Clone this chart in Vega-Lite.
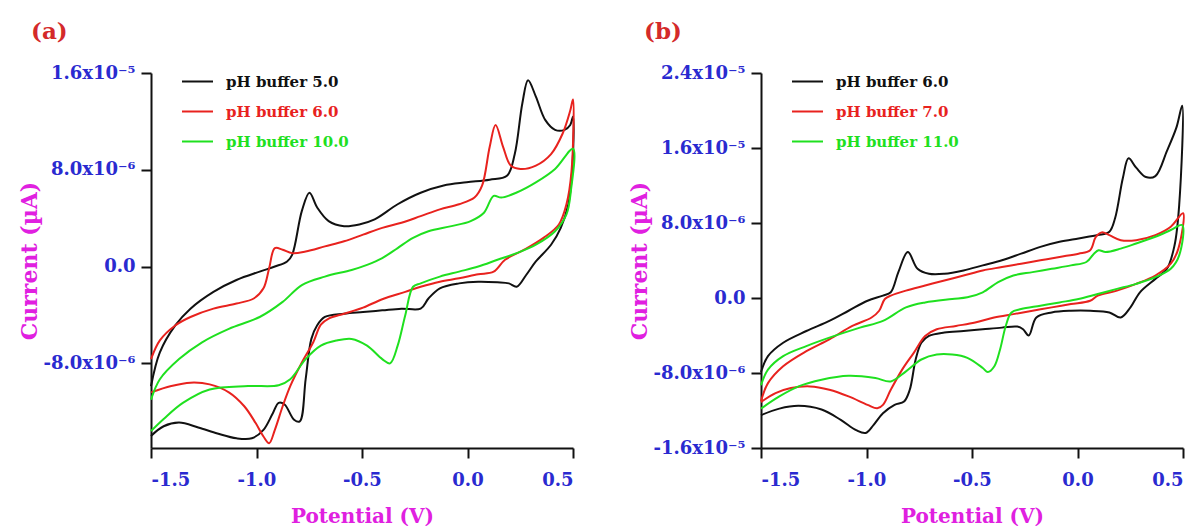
{
  "$schema": "https://vega.github.io/schema/vega-lite/v6.json",
  "background": "white",
  "padding": {"left": 18, "top": 21, "right": 0, "bottom": 0},
  "spacing": 49,
  "config": {
    "view": {"stroke": null},
    "font": "DejaVu Serif",
    "axis": {"domainColor": "#111111", "domainWidth": 2, "tickColor": "#111111", "tickWidth": 2, "tickSize": 10, "grid": false,
      "labelFont": "DejaVu Serif", "labelFontWeight": "bold", "labelFontSize": 18, "labelColor": "#2a2ad0",
      "titleFont": "DejaVu Serif", "titleFontWeight": "bold", "titleColor": "#e020e0", "titleFontSize": 20},
    "title": {"font": "DejaVu Serif", "fontWeight": "bold", "fontSize": 23, "color": "#d42a2a", "anchor": "start", "frame": "bounds"},
    "legend": {"title": null, "orient": "none", "legendX": 30, "legendY": -8, "symbolType": "stroke", "symbolSize": 961, "symbolStrokeWidth": 2,
      "labelFont": "DejaVu Serif", "labelFontWeight": "bold", "labelFontSize": 15, "labelOffset": 12, "rowPadding": 5, "padding": 0, "labelLimit": 300}
  },
  "resolve": {"scale": {"color": "independent"}, "legend": {"color": "independent"}},
  "datasets": {
    "a": [
      {"series":"pH buffer 5.0","step":1,"potential":-1.5,"current":-9.9e-6},
      {"series":"pH buffer 5.0","step":2,"potential":-1.458,"current":-7.1e-6},
      {"series":"pH buffer 5.0","step":3,"potential":-1.385,"current":-4.87e-6},
      {"series":"pH buffer 5.0","step":4,"potential":-1.313,"current":-3.48e-6},
      {"series":"pH buffer 5.0","step":5,"potential":-1.204,"current":-2.09e-6},
      {"series":"pH buffer 5.0","step":6,"potential":-1.095,"current":-1.11e-6},
      {"series":"pH buffer 5.0","step":7,"potential":-0.985,"current":-0.42e-6},
      {"series":"pH buffer 5.0","step":8,"potential":-0.913,"current":0},
      {"series":"pH buffer 5.0","step":9,"potential":-0.855,"current":0.42e-6},
      {"series":"pH buffer 5.0","step":10,"potential":-0.831,"current":0.97e-6},
      {"series":"pH buffer 5.0","step":11,"potential":-0.785,"current":4.6e-6},
      {"series":"pH buffer 5.0","step":12,"potential":-0.749,"current":6.1e-6},
      {"series":"pH buffer 5.0","step":13,"potential":-0.713,"current":4.9e-6},
      {"series":"pH buffer 5.0","step":14,"potential":-0.658,"current":3.76e-6},
      {"series":"pH buffer 5.0","step":15,"potential":-0.585,"current":3.34e-6},
      {"series":"pH buffer 5.0","step":16,"potential":-0.513,"current":3.48e-6},
      {"series":"pH buffer 5.0","step":17,"potential":-0.44,"current":3.9e-6},
      {"series":"pH buffer 5.0","step":18,"potential":-0.331,"current":5.15e-6},
      {"series":"pH buffer 5.0","step":19,"potential":-0.222,"current":6.1e-6},
      {"series":"pH buffer 5.0","step":20,"potential":-0.113,"current":6.7e-6},
      {"series":"pH buffer 5.0","step":21,"potential":-0.004,"current":6.96e-6},
      {"series":"pH buffer 5.0","step":22,"potential":0.105,"current":7.18e-6},
      {"series":"pH buffer 5.0","step":23,"potential":0.187,"current":7.5e-6},
      {"series":"pH buffer 5.0","step":24,"potential":0.224,"current":9.3e-6},
      {"series":"pH buffer 5.0","step":25,"potential":0.26,"current":13.5e-6},
      {"series":"pH buffer 5.0","step":26,"potential":0.287,"current":15.4e-6},
      {"series":"pH buffer 5.0","step":27,"potential":0.324,"current":14.05e-6},
      {"series":"pH buffer 5.0","step":28,"potential":0.369,"current":12.1e-6},
      {"series":"pH buffer 5.0","step":29,"potential":0.415,"current":11.3e-6},
      {"series":"pH buffer 5.0","step":30,"potential":0.46,"current":11.3e-6},
      {"series":"pH buffer 5.0","step":31,"potential":0.487,"current":11.7e-6},
      {"series":"pH buffer 5.0","step":32,"potential":0.5,"current":12.4e-6},
      {"series":"pH buffer 5.0","step":33,"potential":0.496,"current":7.9e-6},
      {"series":"pH buffer 5.0","step":34,"potential":0.478,"current":5.15e-6},
      {"series":"pH buffer 5.0","step":35,"potential":0.442,"current":3.2e-6},
      {"series":"pH buffer 5.0","step":36,"potential":0.396,"current":1.8e-6},
      {"series":"pH buffer 5.0","step":37,"potential":0.324,"current":0.42e-6},
      {"series":"pH buffer 5.0","step":38,"potential":0.278,"current":-0.7e-6},
      {"series":"pH buffer 5.0","step":39,"potential":0.233,"current":-1.67e-6},
      {"series":"pH buffer 5.0","step":40,"potential":0.196,"current":-1.39e-6},
      {"series":"pH buffer 5.0","step":41,"potential":0.142,"current":-1.3e-6},
      {"series":"pH buffer 5.0","step":42,"potential":0.051,"current":-1.25e-6},
      {"series":"pH buffer 5.0","step":43,"potential":-0.04,"current":-1.39e-6},
      {"series":"pH buffer 5.0","step":44,"potential":-0.131,"current":-1.8e-6},
      {"series":"pH buffer 5.0","step":45,"potential":-0.185,"current":-2.64e-6},
      {"series":"pH buffer 5.0","step":46,"potential":-0.222,"current":-3.48e-6},
      {"series":"pH buffer 5.0","step":47,"potential":-0.313,"current":-3.48e-6},
      {"series":"pH buffer 5.0","step":48,"potential":-0.404,"current":-3.62e-6},
      {"series":"pH buffer 5.0","step":49,"potential":-0.495,"current":-3.76e-6},
      {"series":"pH buffer 5.0","step":50,"potential":-0.585,"current":-3.9e-6},
      {"series":"pH buffer 5.0","step":51,"potential":-0.676,"current":-4.17e-6},
      {"series":"pH buffer 5.0","step":52,"potential":-0.713,"current":-4.87e-6},
      {"series":"pH buffer 5.0","step":53,"potential":-0.74,"current":-5.98e-6},
      {"series":"pH buffer 5.0","step":54,"potential":-0.767,"current":-9.3e-6},
      {"series":"pH buffer 5.0","step":55,"potential":-0.795,"current":-12.8e-6},
      {"series":"pH buffer 5.0","step":56,"potential":-0.822,"current":-12.66e-6},
      {"series":"pH buffer 5.0","step":57,"potential":-0.867,"current":-11.4e-6},
      {"series":"pH buffer 5.0","step":58,"potential":-0.895,"current":-11.27e-6},
      {"series":"pH buffer 5.0","step":59,"potential":-0.922,"current":-12.1e-6},
      {"series":"pH buffer 5.0","step":60,"potential":-0.967,"current":-13.5e-6},
      {"series":"pH buffer 5.0","step":61,"potential":-1.022,"current":-14.2e-6},
      {"series":"pH buffer 5.0","step":62,"potential":-1.095,"current":-14.2e-6},
      {"series":"pH buffer 5.0","step":63,"potential":-1.185,"current":-13.8e-6},
      {"series":"pH buffer 5.0","step":64,"potential":-1.276,"current":-13.3e-6},
      {"series":"pH buffer 5.0","step":65,"potential":-1.367,"current":-12.9e-6},
      {"series":"pH buffer 5.0","step":66,"potential":-1.44,"current":-13.2e-6},
      {"series":"pH buffer 5.0","step":67,"potential":-1.5,"current":-14.0e-6},

      {"series":"pH buffer 6.0","step":1,"potential":-1.5,"current":-7.65e-6},
      {"series":"pH buffer 6.0","step":2,"potential":-1.458,"current":-6.1e-6},
      {"series":"pH buffer 6.0","step":3,"potential":-1.385,"current":-4.87e-6},
      {"series":"pH buffer 6.0","step":4,"potential":-1.313,"current":-4.17e-6},
      {"series":"pH buffer 6.0","step":5,"potential":-1.204,"current":-3.48e-6},
      {"series":"pH buffer 6.0","step":6,"potential":-1.095,"current":-3.06e-6},
      {"series":"pH buffer 6.0","step":7,"potential":-1.013,"current":-2.64e-6},
      {"series":"pH buffer 6.0","step":8,"potential":-0.967,"current":-1.8e-6},
      {"series":"pH buffer 6.0","step":9,"potential":-0.94,"current":-0.14e-6},
      {"series":"pH buffer 6.0","step":10,"potential":-0.913,"current":1.53e-6},
      {"series":"pH buffer 6.0","step":11,"potential":-0.876,"current":1.39e-6},
      {"series":"pH buffer 6.0","step":12,"potential":-0.831,"current":1.11e-6},
      {"series":"pH buffer 6.0","step":13,"potential":-0.767,"current":1.25e-6},
      {"series":"pH buffer 6.0","step":14,"potential":-0.676,"current":1.67e-6},
      {"series":"pH buffer 6.0","step":15,"potential":-0.585,"current":2.09e-6},
      {"series":"pH buffer 6.0","step":16,"potential":-0.495,"current":2.64e-6},
      {"series":"pH buffer 6.0","step":17,"potential":-0.404,"current":3.2e-6},
      {"series":"pH buffer 6.0","step":18,"potential":-0.313,"current":3.62e-6},
      {"series":"pH buffer 6.0","step":19,"potential":-0.222,"current":4.17e-6},
      {"series":"pH buffer 6.0","step":20,"potential":-0.131,"current":4.73e-6},
      {"series":"pH buffer 6.0","step":21,"potential":-0.04,"current":5.15e-6},
      {"series":"pH buffer 6.0","step":22,"potential":0.033,"current":5.7e-6},
      {"series":"pH buffer 6.0","step":23,"potential":0.069,"current":6.68e-6},
      {"series":"pH buffer 6.0","step":24,"potential":0.105,"current":9.88e-6},
      {"series":"pH buffer 6.0","step":25,"potential":0.133,"current":11.7e-6},
      {"series":"pH buffer 6.0","step":26,"potential":0.169,"current":9.88e-6},
      {"series":"pH buffer 6.0","step":27,"potential":0.205,"current":8.35e-6},
      {"series":"pH buffer 6.0","step":28,"potential":0.251,"current":8.07e-6},
      {"series":"pH buffer 6.0","step":29,"potential":0.324,"current":8.35e-6},
      {"series":"pH buffer 6.0","step":30,"potential":0.396,"current":9.3e-6},
      {"series":"pH buffer 6.0","step":31,"potential":0.451,"current":11.0e-6},
      {"series":"pH buffer 6.0","step":32,"potential":0.487,"current":12.9e-6},
      {"series":"pH buffer 6.0","step":33,"potential":0.5,"current":13.8e-6},
      {"series":"pH buffer 6.0","step":34,"potential":0.493,"current":7.9e-6},
      {"series":"pH buffer 6.0","step":35,"potential":0.469,"current":5.15e-6},
      {"series":"pH buffer 6.0","step":36,"potential":0.433,"current":3.48e-6},
      {"series":"pH buffer 6.0","step":37,"potential":0.36,"current":2.37e-6},
      {"series":"pH buffer 6.0","step":38,"potential":0.269,"current":1.39e-6},
      {"series":"pH buffer 6.0","step":39,"potential":0.178,"current":0.56e-6},
      {"series":"pH buffer 6.0","step":40,"potential":0.124,"current":-0.42e-6},
      {"series":"pH buffer 6.0","step":41,"potential":0.051,"current":-0.64e-6},
      {"series":"pH buffer 6.0","step":42,"potential":-0.04,"current":-0.97e-6},
      {"series":"pH buffer 6.0","step":43,"potential":-0.131,"current":-1.25e-6},
      {"series":"pH buffer 6.0","step":44,"potential":-0.222,"current":-1.67e-6},
      {"series":"pH buffer 6.0","step":45,"potential":-0.295,"current":-2.09e-6},
      {"series":"pH buffer 6.0","step":46,"potential":-0.404,"current":-2.7e-6},
      {"series":"pH buffer 6.0","step":47,"potential":-0.495,"current":-3.4e-6},
      {"series":"pH buffer 6.0","step":48,"potential":-0.585,"current":-3.9e-6},
      {"series":"pH buffer 6.0","step":49,"potential":-0.658,"current":-4.3e-6},
      {"series":"pH buffer 6.0","step":50,"potential":-0.695,"current":-4.8e-6},
      {"series":"pH buffer 6.0","step":51,"potential":-0.731,"current":-6.26e-6},
      {"series":"pH buffer 6.0","step":52,"potential":-0.785,"current":-7.93e-6},
      {"series":"pH buffer 6.0","step":53,"potential":-0.84,"current":-9.88e-6},
      {"series":"pH buffer 6.0","step":54,"potential":-0.876,"current":-11.55e-6},
      {"series":"pH buffer 6.0","step":55,"potential":-0.913,"current":-13.5e-6},
      {"series":"pH buffer 6.0","step":56,"potential":-0.94,"current":-14.6e-6},
      {"series":"pH buffer 6.0","step":57,"potential":-0.967,"current":-14.05e-6},
      {"series":"pH buffer 6.0","step":58,"potential":-1.004,"current":-12.94e-6},
      {"series":"pH buffer 6.0","step":59,"potential":-1.058,"current":-11.55e-6},
      {"series":"pH buffer 6.0","step":60,"potential":-1.131,"current":-10.4e-6},
      {"series":"pH buffer 6.0","step":61,"potential":-1.222,"current":-9.74e-6},
      {"series":"pH buffer 6.0","step":62,"potential":-1.313,"current":-9.6e-6},
      {"series":"pH buffer 6.0","step":63,"potential":-1.404,"current":-9.88e-6},
      {"series":"pH buffer 6.0","step":64,"potential":-1.5,"current":-10.4e-6},

      {"series":"pH buffer 10.0","step":1,"potential":-1.5,"current":-11.0e-6},
      {"series":"pH buffer 10.0","step":2,"potential":-1.458,"current":-9.32e-6},
      {"series":"pH buffer 10.0","step":3,"potential":-1.367,"current":-7.65e-6},
      {"series":"pH buffer 10.0","step":4,"potential":-1.258,"current":-6.26e-6},
      {"series":"pH buffer 10.0","step":5,"potential":-1.131,"current":-5.15e-6},
      {"series":"pH buffer 10.0","step":6,"potential":-0.985,"current":-4.17e-6},
      {"series":"pH buffer 10.0","step":7,"potential":-0.876,"current":-2.92e-6},
      {"series":"pH buffer 10.0","step":8,"potential":-0.785,"current":-1.53e-6},
      {"series":"pH buffer 10.0","step":9,"potential":-0.676,"current":-0.83e-6},
      {"series":"pH buffer 10.0","step":10,"potential":-0.549,"current":-0.28e-6},
      {"series":"pH buffer 10.0","step":11,"potential":-0.476,"current":0.14e-6},
      {"series":"pH buffer 10.0","step":12,"potential":-0.404,"current":0.7e-6},
      {"series":"pH buffer 10.0","step":13,"potential":-0.331,"current":1.53e-6},
      {"series":"pH buffer 10.0","step":14,"potential":-0.258,"current":2.37e-6},
      {"series":"pH buffer 10.0","step":15,"potential":-0.185,"current":2.92e-6},
      {"series":"pH buffer 10.0","step":16,"potential":-0.076,"current":3.34e-6},
      {"series":"pH buffer 10.0","step":17,"potential":0.015,"current":3.76e-6},
      {"series":"pH buffer 10.0","step":18,"potential":0.078,"current":4.45e-6},
      {"series":"pH buffer 10.0","step":19,"potential":0.124,"current":5.84e-6},
      {"series":"pH buffer 10.0","step":20,"potential":0.16,"current":5.7e-6},
      {"series":"pH buffer 10.0","step":21,"potential":0.233,"current":6.12e-6},
      {"series":"pH buffer 10.0","step":22,"potential":0.324,"current":6.96e-6},
      {"series":"pH buffer 10.0","step":23,"potential":0.415,"current":8.07e-6},
      {"series":"pH buffer 10.0","step":24,"potential":0.5,"current":9.74e-6},
      {"series":"pH buffer 10.0","step":25,"potential":0.49,"current":6.26e-6},
      {"series":"pH buffer 10.0","step":26,"potential":0.469,"current":4.31e-6},
      {"series":"pH buffer 10.0","step":27,"potential":0.415,"current":2.92e-6},
      {"series":"pH buffer 10.0","step":28,"potential":0.324,"current":1.81e-6},
      {"series":"pH buffer 10.0","step":29,"potential":0.233,"current":1.11e-6},
      {"series":"pH buffer 10.0","step":30,"potential":0.142,"current":0.56e-6},
      {"series":"pH buffer 10.0","step":31,"potential":0.051,"current":0},
      {"series":"pH buffer 10.0","step":32,"potential":-0.04,"current":-0.42e-6},
      {"series":"pH buffer 10.0","step":33,"potential":-0.131,"current":-0.83e-6},
      {"series":"pH buffer 10.0","step":34,"potential":-0.222,"current":-1.39e-6},
      {"series":"pH buffer 10.0","step":35,"potential":-0.258,"current":-1.67e-6},
      {"series":"pH buffer 10.0","step":36,"potential":-0.295,"current":-4.03e-6},
      {"series":"pH buffer 10.0","step":37,"potential":-0.331,"current":-6.54e-6},
      {"series":"pH buffer 10.0","step":38,"potential":-0.367,"current":-8.0e-6},
      {"series":"pH buffer 10.0","step":39,"potential":-0.404,"current":-7.65e-6},
      {"series":"pH buffer 10.0","step":40,"potential":-0.476,"current":-6.54e-6},
      {"series":"pH buffer 10.0","step":41,"potential":-0.549,"current":-5.98e-6},
      {"series":"pH buffer 10.0","step":42,"potential":-0.622,"current":-6.12e-6},
      {"series":"pH buffer 10.0","step":43,"potential":-0.695,"current":-6.54e-6},
      {"series":"pH buffer 10.0","step":44,"potential":-0.767,"current":-7.65e-6},
      {"series":"pH buffer 10.0","step":45,"potential":-0.84,"current":-9.32e-6},
      {"series":"pH buffer 10.0","step":46,"potential":-0.895,"current":-9.82e-6},
      {"series":"pH buffer 10.0","step":47,"potential":-1.04,"current":-9.88e-6},
      {"series":"pH buffer 10.0","step":48,"potential":-1.222,"current":-10.16e-6},
      {"series":"pH buffer 10.0","step":49,"potential":-1.349,"current":-11.27e-6},
      {"series":"pH buffer 10.0","step":50,"potential":-1.44,"current":-12.6e-6},
      {"series":"pH buffer 10.0","step":51,"potential":-1.5,"current":-13.6e-6}
    ],
    "b": [
      {"series":"pH buffer 6.0","step":1,"potential":-1.5,"current":-7.9e-6},
      {"series":"pH buffer 6.0","step":2,"potential":-1.467,"current":-6.2e-6},
      {"series":"pH buffer 6.0","step":3,"potential":-1.395,"current":-4.77e-6},
      {"series":"pH buffer 6.0","step":4,"potential":-1.285,"current":-3.52e-6},
      {"series":"pH buffer 6.0","step":5,"potential":-1.176,"current":-2.44e-6},
      {"series":"pH buffer 6.0","step":6,"potential":-1.085,"current":-1.36e-6},
      {"series":"pH buffer 6.0","step":7,"potential":-0.995,"current":-0.29e-6},
      {"series":"pH buffer 6.0","step":8,"potential":-0.922,"current":0.25e-6},
      {"series":"pH buffer 6.0","step":9,"potential":-0.885,"current":0.61e-6},
      {"series":"pH buffer 6.0","step":10,"potential":-0.849,"current":2.76e-6},
      {"series":"pH buffer 6.0","step":11,"potential":-0.804,"current":4.91e-6},
      {"series":"pH buffer 6.0","step":12,"potential":-0.758,"current":3.12e-6},
      {"series":"pH buffer 6.0","step":13,"potential":-0.704,"current":2.58e-6},
      {"series":"pH buffer 6.0","step":14,"potential":-0.631,"current":2.58e-6},
      {"series":"pH buffer 6.0","step":15,"potential":-0.54,"current":2.94e-6},
      {"series":"pH buffer 6.0","step":16,"potential":-0.449,"current":3.48e-6},
      {"series":"pH buffer 6.0","step":17,"potential":-0.358,"current":4.02e-6},
      {"series":"pH buffer 6.0","step":18,"potential":-0.267,"current":4.73e-6},
      {"series":"pH buffer 6.0","step":19,"potential":-0.176,"current":5.45e-6},
      {"series":"pH buffer 6.0","step":20,"potential":-0.085,"current":5.99e-6},
      {"series":"pH buffer 6.0","step":21,"potential":0.005,"current":6.35e-6},
      {"series":"pH buffer 6.0","step":22,"potential":0.096,"current":6.71e-6},
      {"series":"pH buffer 6.0","step":23,"potential":0.151,"current":7.07e-6},
      {"series":"pH buffer 6.0","step":24,"potential":0.178,"current":8.5e-6},
      {"series":"pH buffer 6.0","step":25,"potential":0.215,"current":12.8e-6},
      {"series":"pH buffer 6.0","step":26,"potential":0.242,"current":14.9e-6},
      {"series":"pH buffer 6.0","step":27,"potential":0.278,"current":13.9e-6},
      {"series":"pH buffer 6.0","step":28,"potential":0.324,"current":12.9e-6},
      {"series":"pH buffer 6.0","step":29,"potential":0.369,"current":13.0e-6},
      {"series":"pH buffer 6.0","step":30,"potential":0.424,"current":15.7e-6},
      {"series":"pH buffer 6.0","step":31,"potential":0.469,"current":18.2e-6},
      {"series":"pH buffer 6.0","step":32,"potential":0.496,"current":20.5e-6},
      {"series":"pH buffer 6.0","step":33,"potential":0.482,"current":9.94e-6},
      {"series":"pH buffer 6.0","step":34,"potential":0.46,"current":5.63e-6},
      {"series":"pH buffer 6.0","step":35,"potential":0.424,"current":3.12e-6},
      {"series":"pH buffer 6.0","step":36,"potential":0.369,"current":2.04e-6},
      {"series":"pH buffer 6.0","step":37,"potential":0.296,"current":0.61e-6},
      {"series":"pH buffer 6.0","step":38,"potential":0.251,"current":-1.0e-6},
      {"series":"pH buffer 6.0","step":39,"potential":0.205,"current":-2.08e-6},
      {"series":"pH buffer 6.0","step":40,"potential":0.151,"current":-1.54e-6},
      {"series":"pH buffer 6.0","step":41,"potential":0.06,"current":-1.36e-6},
      {"series":"pH buffer 6.0","step":42,"potential":-0.031,"current":-1.36e-6},
      {"series":"pH buffer 6.0","step":43,"potential":-0.122,"current":-1.54e-6},
      {"series":"pH buffer 6.0","step":44,"potential":-0.195,"current":-2.08e-6},
      {"series":"pH buffer 6.0","step":45,"potential":-0.231,"current":-4.0e-6},
      {"series":"pH buffer 6.0","step":46,"potential":-0.258,"current":-3.34e-6},
      {"series":"pH buffer 6.0","step":47,"potential":-0.285,"current":-3.05e-6},
      {"series":"pH buffer 6.0","step":48,"potential":-0.358,"current":-3.16e-6},
      {"series":"pH buffer 6.0","step":49,"potential":-0.449,"current":-3.34e-6},
      {"series":"pH buffer 6.0","step":50,"potential":-0.54,"current":-3.52e-6},
      {"series":"pH buffer 6.0","step":51,"potential":-0.631,"current":-3.69e-6},
      {"series":"pH buffer 6.0","step":52,"potential":-0.704,"current":-4.05e-6},
      {"series":"pH buffer 6.0","step":53,"potential":-0.74,"current":-4.77e-6},
      {"series":"pH buffer 6.0","step":54,"potential":-0.767,"current":-6.56e-6},
      {"series":"pH buffer 6.0","step":55,"potential":-0.795,"current":-9.79e-6},
      {"series":"pH buffer 6.0","step":56,"potential":-0.822,"current":-11.05e-6},
      {"series":"pH buffer 6.0","step":57,"potential":-0.867,"current":-11.4e-6},
      {"series":"pH buffer 6.0","step":58,"potential":-0.922,"current":-12.3e-6},
      {"series":"pH buffer 6.0","step":59,"potential":-0.967,"current":-13.56e-6},
      {"series":"pH buffer 6.0","step":60,"potential":-1.004,"current":-14.4e-6},
      {"series":"pH buffer 6.0","step":61,"potential":-1.049,"current":-14.1e-6},
      {"series":"pH buffer 6.0","step":62,"potential":-1.122,"current":-13.0e-6},
      {"series":"pH buffer 6.0","step":63,"potential":-1.213,"current":-11.9e-6},
      {"series":"pH buffer 6.0","step":64,"potential":-1.322,"current":-11.5e-6},
      {"series":"pH buffer 6.0","step":65,"potential":-1.413,"current":-11.8e-6},
      {"series":"pH buffer 6.0","step":66,"potential":-1.5,"current":-12.5e-6},

      {"series":"pH buffer 7.0","step":1,"potential":-1.5,"current":-11.0e-6},
      {"series":"pH buffer 7.0","step":2,"potential":-1.467,"current":-9.08e-6},
      {"series":"pH buffer 7.0","step":3,"potential":-1.395,"current":-7.28e-6},
      {"series":"pH buffer 7.0","step":4,"potential":-1.285,"current":-5.67e-6},
      {"series":"pH buffer 7.0","step":5,"potential":-1.176,"current":-4.41e-6},
      {"series":"pH buffer 7.0","step":6,"potential":-1.067,"current":-2.98e-6},
      {"series":"pH buffer 7.0","step":7,"potential":-0.976,"current":-2.08e-6},
      {"series":"pH buffer 7.0","step":8,"potential":-0.94,"current":-1.36e-6},
      {"series":"pH buffer 7.0","step":9,"potential":-0.913,"current":-0.11e-6},
      {"series":"pH buffer 7.0","step":10,"potential":-0.885,"current":0.25e-6},
      {"series":"pH buffer 7.0","step":11,"potential":-0.813,"current":0.79e-6},
      {"series":"pH buffer 7.0","step":12,"potential":-0.722,"current":1.33e-6},
      {"series":"pH buffer 7.0","step":13,"potential":-0.631,"current":1.87e-6},
      {"series":"pH buffer 7.0","step":14,"potential":-0.54,"current":2.4e-6},
      {"series":"pH buffer 7.0","step":15,"potential":-0.449,"current":2.94e-6},
      {"series":"pH buffer 7.0","step":16,"potential":-0.358,"current":3.3e-6},
      {"series":"pH buffer 7.0","step":17,"potential":-0.267,"current":3.66e-6},
      {"series":"pH buffer 7.0","step":18,"potential":-0.176,"current":4.02e-6},
      {"series":"pH buffer 7.0","step":19,"potential":-0.085,"current":4.38e-6},
      {"series":"pH buffer 7.0","step":20,"potential":0.005,"current":4.73e-6},
      {"series":"pH buffer 7.0","step":21,"potential":0.06,"current":5.09e-6},
      {"series":"pH buffer 7.0","step":22,"potential":0.087,"current":6.53e-6},
      {"series":"pH buffer 7.0","step":23,"potential":0.115,"current":7.0e-6},
      {"series":"pH buffer 7.0","step":24,"potential":0.151,"current":6.71e-6},
      {"series":"pH buffer 7.0","step":25,"potential":0.205,"current":6.17e-6},
      {"series":"pH buffer 7.0","step":26,"potential":0.278,"current":6.17e-6},
      {"series":"pH buffer 7.0","step":27,"potential":0.369,"current":6.71e-6},
      {"series":"pH buffer 7.0","step":28,"potential":0.442,"current":7.6e-6},
      {"series":"pH buffer 7.0","step":29,"potential":0.5,"current":9.04e-6},
      {"series":"pH buffer 7.0","step":30,"potential":0.478,"current":5.27e-6},
      {"series":"pH buffer 7.0","step":31,"potential":0.442,"current":3.66e-6},
      {"series":"pH buffer 7.0","step":32,"potential":0.369,"current":2.4e-6},
      {"series":"pH buffer 7.0","step":33,"potential":0.278,"current":1.51e-6},
      {"series":"pH buffer 7.0","step":34,"potential":0.187,"current":0.79e-6},
      {"series":"pH buffer 7.0","step":35,"potential":0.096,"current":0.25e-6},
      {"series":"pH buffer 7.0","step":36,"potential":0.06,"current":-0.29e-6},
      {"series":"pH buffer 7.0","step":37,"potential":-0.031,"current":-0.65e-6},
      {"series":"pH buffer 7.0","step":38,"potential":-0.122,"current":-1.0e-6},
      {"series":"pH buffer 7.0","step":39,"potential":-0.213,"current":-1.36e-6},
      {"series":"pH buffer 7.0","step":40,"potential":-0.304,"current":-1.72e-6},
      {"series":"pH buffer 7.0","step":41,"potential":-0.395,"current":-2.08e-6},
      {"series":"pH buffer 7.0","step":42,"potential":-0.485,"current":-2.62e-6},
      {"series":"pH buffer 7.0","step":43,"potential":-0.576,"current":-2.98e-6},
      {"series":"pH buffer 7.0","step":44,"potential":-0.667,"current":-3.34e-6},
      {"series":"pH buffer 7.0","step":45,"potential":-0.722,"current":-4.05e-6},
      {"series":"pH buffer 7.0","step":46,"potential":-0.776,"current":-5.85e-6},
      {"series":"pH buffer 7.0","step":47,"potential":-0.831,"current":-7.64e-6},
      {"series":"pH buffer 7.0","step":48,"potential":-0.885,"current":-9.79e-6},
      {"series":"pH buffer 7.0","step":49,"potential":-0.922,"current":-11.4e-6},
      {"series":"pH buffer 7.0","step":50,"potential":-0.949,"current":-11.77e-6},
      {"series":"pH buffer 7.0","step":51,"potential":-0.995,"current":-11.4e-6},
      {"series":"pH buffer 7.0","step":52,"potential":-1.085,"current":-10.5e-6},
      {"series":"pH buffer 7.0","step":53,"potential":-1.176,"current":-9.79e-6},
      {"series":"pH buffer 7.0","step":54,"potential":-1.267,"current":-9.43e-6},
      {"series":"pH buffer 7.0","step":55,"potential":-1.358,"current":-9.61e-6},
      {"series":"pH buffer 7.0","step":56,"potential":-1.431,"current":-10.15e-6},
      {"series":"pH buffer 7.0","step":57,"potential":-1.5,"current":-11.1e-6},

      {"series":"pH buffer 11.0","step":1,"potential":-1.5,"current":-9.3e-6},
      {"series":"pH buffer 11.0","step":2,"potential":-1.467,"current":-7.64e-6},
      {"series":"pH buffer 11.0","step":3,"potential":-1.395,"current":-6.2e-6},
      {"series":"pH buffer 11.0","step":4,"potential":-1.285,"current":-5.13e-6},
      {"series":"pH buffer 11.0","step":5,"potential":-1.176,"current":-4.23e-6},
      {"series":"pH buffer 11.0","step":6,"potential":-1.031,"current":-3.16e-6},
      {"series":"pH buffer 11.0","step":7,"potential":-0.922,"current":-2.44e-6},
      {"series":"pH buffer 11.0","step":8,"potential":-0.813,"current":-1.0e-6},
      {"series":"pH buffer 11.0","step":9,"potential":-0.722,"current":-0.47e-6},
      {"series":"pH buffer 11.0","step":10,"potential":-0.594,"current":-0.11e-6},
      {"series":"pH buffer 11.0","step":11,"potential":-0.522,"current":0.07e-6},
      {"series":"pH buffer 11.0","step":12,"potential":-0.449,"current":0.61e-6},
      {"series":"pH buffer 11.0","step":13,"potential":-0.376,"current":1.69e-6},
      {"series":"pH buffer 11.0","step":14,"potential":-0.304,"current":2.4e-6},
      {"series":"pH buffer 11.0","step":15,"potential":-0.213,"current":2.76e-6},
      {"series":"pH buffer 11.0","step":16,"potential":-0.122,"current":3.12e-6},
      {"series":"pH buffer 11.0","step":17,"potential":-0.031,"current":3.48e-6},
      {"series":"pH buffer 11.0","step":18,"potential":0.042,"current":3.84e-6},
      {"series":"pH buffer 11.0","step":19,"potential":0.078,"current":4.73e-6},
      {"series":"pH buffer 11.0","step":20,"potential":0.1,"current":5.09e-6},
      {"series":"pH buffer 11.0","step":21,"potential":0.133,"current":4.91e-6},
      {"series":"pH buffer 11.0","step":22,"potential":0.205,"current":5.27e-6},
      {"series":"pH buffer 11.0","step":23,"potential":0.278,"current":5.81e-6},
      {"series":"pH buffer 11.0","step":24,"potential":0.369,"current":6.53e-6},
      {"series":"pH buffer 11.0","step":25,"potential":0.442,"current":7.25e-6},
      {"series":"pH buffer 11.0","step":26,"potential":0.496,"current":7.78e-6},
      {"series":"pH buffer 11.0","step":27,"potential":0.482,"current":4.55e-6},
      {"series":"pH buffer 11.0","step":28,"potential":0.442,"current":3.12e-6},
      {"series":"pH buffer 11.0","step":29,"potential":0.369,"current":2.22e-6},
      {"series":"pH buffer 11.0","step":30,"potential":0.278,"current":1.51e-6},
      {"series":"pH buffer 11.0","step":31,"potential":0.187,"current":0.97e-6},
      {"series":"pH buffer 11.0","step":32,"potential":0.096,"current":0.43e-6},
      {"series":"pH buffer 11.0","step":33,"potential":0.005,"current":-0.11e-6},
      {"series":"pH buffer 11.0","step":34,"potential":-0.085,"current":-0.47e-6},
      {"series":"pH buffer 11.0","step":35,"potential":-0.176,"current":-0.83e-6},
      {"series":"pH buffer 11.0","step":36,"potential":-0.267,"current":-1.18e-6},
      {"series":"pH buffer 11.0","step":37,"potential":-0.313,"current":-1.54e-6},
      {"series":"pH buffer 11.0","step":38,"potential":-0.34,"current":-2.98e-6},
      {"series":"pH buffer 11.0","step":39,"potential":-0.367,"current":-5.49e-6},
      {"series":"pH buffer 11.0","step":40,"potential":-0.394,"current":-7.28e-6},
      {"series":"pH buffer 11.0","step":41,"potential":-0.425,"current":-7.9e-6},
      {"series":"pH buffer 11.0","step":42,"potential":-0.449,"current":-7.46e-6},
      {"series":"pH buffer 11.0","step":43,"potential":-0.522,"current":-6.38e-6},
      {"series":"pH buffer 11.0","step":44,"potential":-0.594,"current":-6.03e-6},
      {"series":"pH buffer 11.0","step":45,"potential":-0.667,"current":-6.03e-6},
      {"series":"pH buffer 11.0","step":46,"potential":-0.74,"current":-6.56e-6},
      {"series":"pH buffer 11.0","step":47,"potential":-0.813,"current":-7.82e-6},
      {"series":"pH buffer 11.0","step":48,"potential":-0.885,"current":-8.9e-6},
      {"series":"pH buffer 11.0","step":49,"potential":-0.958,"current":-8.54e-6},
      {"series":"pH buffer 11.0","step":50,"potential":-1.085,"current":-8.3e-6},
      {"series":"pH buffer 11.0","step":51,"potential":-1.213,"current":-8.72e-6},
      {"series":"pH buffer 11.0","step":52,"potential":-1.322,"current":-9.43e-6},
      {"series":"pH buffer 11.0","step":53,"potential":-1.413,"current":-10.5e-6},
      {"series":"pH buffer 11.0","step":54,"potential":-1.5,"current":-11.8e-6}
    ]
  },
  "hconcat": [
    {
      "title": {"text": "(a)", "dx": 13, "offset": 20},
      "width": 422,
      "height": 375,
      "data": {"name": "a"},
      "mark": {"type": "line", "strokeWidth": 2, "interpolate": "catmull-rom"},
      "encoding": {
        "x": {"field": "potential", "type": "quantitative",
          "scale": {"domain": [-1.5, 0.5], "nice": false, "zero": false},
          "axis": {"values": [-1.5, -1, -0.5, 0, 0.5], "labelExpr": "(datum.value < 0 ? '-' : '') + format(abs(datum.value), '.1f')", "title": "Potential (V)", "labelPadding": 13, "titlePadding": 17}},
        "y": {"field": "current", "type": "quantitative",
          "scale": {"domain": [-1.5e-5, 1.6e-5], "nice": false, "zero": false},
          "axis": {"values": [-8e-6, 0, 8e-6, 1.6e-5], "labelPadding": 6, "titlePadding": 2, "titleFontSize": 22,
            "labelExpr": "abs(datum.value) < 1e-12 ? '0.0' : (datum.value < 0 ? '-' : '') + format(abs(datum.value) > 9.9e-6 ? abs(datum.value) * 1e5 : abs(datum.value) * 1e6, '.1f') + (abs(datum.value) > 9.9e-6 ? 'x10⁻⁵' : 'x10⁻⁶')",
            "title": "Current (µA)"}},
        "color": {"field": "series", "type": "nominal",
          "scale": {"domain": ["pH buffer 5.0", "pH buffer 6.0", "pH buffer 10.0"], "range": ["#111111", "#e8221e", "#1fe01f"]},
          "legend": {"encode": {"labels": {"update": {"fill": {"signal": "datum.label === 'pH buffer 5.0' ? '#111111' : datum.label === 'pH buffer 6.0' ? '#e8221e' : '#1fe01f'"}}}}}},
        "order": {"field": "step", "type": "quantitative"}
      }
    },
    {
      "title": {"text": "(b)", "dx": 16, "offset": 20},
      "width": 422,
      "height": 375,
      "data": {"name": "b"},
      "mark": {"type": "line", "strokeWidth": 2, "interpolate": "catmull-rom"},
      "encoding": {
        "x": {"field": "potential", "type": "quantitative",
          "scale": {"domain": [-1.5, 0.5], "nice": false, "zero": false},
          "axis": {"values": [-1.5, -1, -0.5, 0, 0.5], "labelExpr": "(datum.value < 0 ? '-' : '') + format(abs(datum.value), '.1f')", "title": "Potential (V)", "labelPadding": 13, "titlePadding": 17}},
        "y": {"field": "current", "type": "quantitative",
          "scale": {"domain": [-1.6e-5, 2.4e-5], "nice": false, "zero": false},
          "axis": {"values": [-1.6e-5, -8e-6, 0, 8e-6, 1.6e-5, 2.4e-5], "labelPadding": 6, "titlePadding": 2, "titleFontSize": 22,
            "labelExpr": "abs(datum.value) < 1e-12 ? '0.0' : (datum.value < 0 ? '-' : '') + format(abs(datum.value) > 9.9e-6 ? abs(datum.value) * 1e5 : abs(datum.value) * 1e6, '.1f') + (abs(datum.value) > 9.9e-6 ? 'x10⁻⁵' : 'x10⁻⁶')",
            "title": "Current (µA)"}},
        "color": {"field": "series", "type": "nominal",
          "scale": {"domain": ["pH buffer 6.0", "pH buffer 7.0", "pH buffer 11.0"], "range": ["#111111", "#e8221e", "#1fe01f"]},
          "legend": {"encode": {"labels": {"update": {"fill": {"signal": "datum.label === 'pH buffer 6.0' ? '#111111' : datum.label === 'pH buffer 7.0' ? '#e8221e' : '#1fe01f'"}}}}}},
        "order": {"field": "step", "type": "quantitative"}
      }
    }
  ]
}
